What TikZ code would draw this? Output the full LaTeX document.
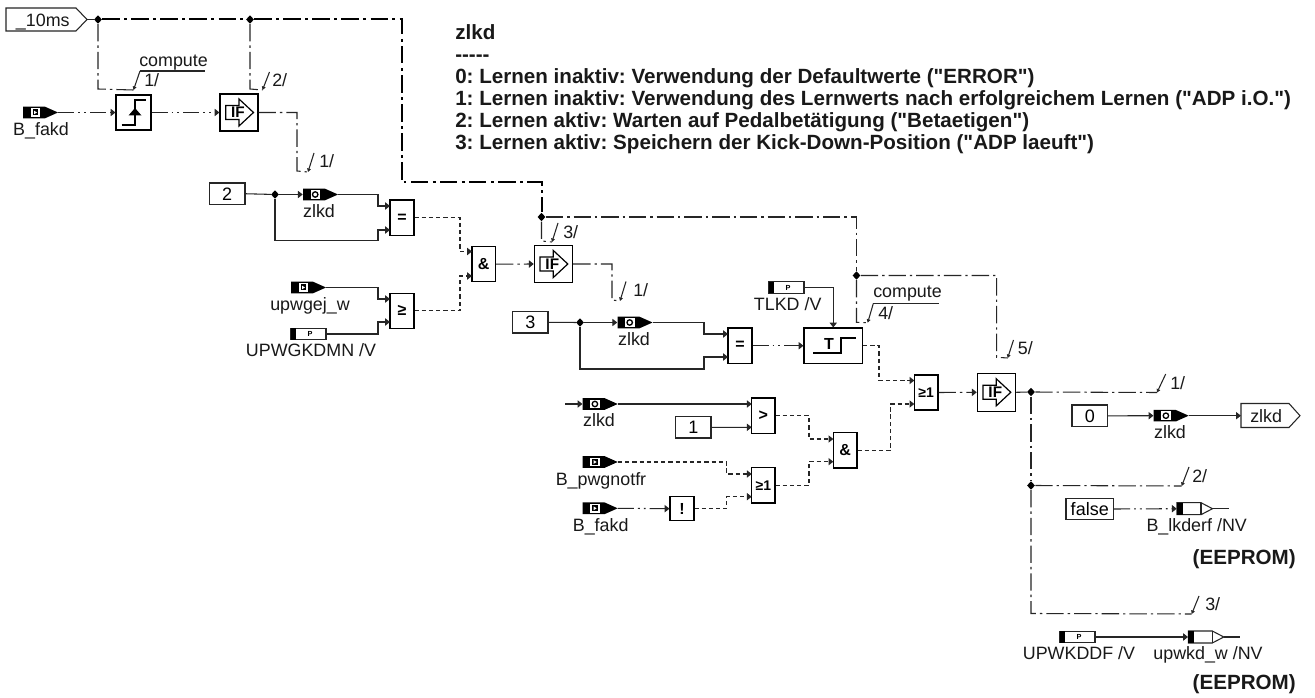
\documentclass[tikz,border=0pt]{standalone}
\usepackage{fontspec}
\setmainfont[Ligatures=TeXOff]{Liberation Sans}
\usetikzlibrary{arrows.meta,shapes.geometric}
\tikzset{
  x=0.75pt,y=-0.75pt,
  wire/.style={line width=0.8pt,draw=black!85},
  tip/.style={-{Triangle[length=3.6pt,width=5.4pt]}},
  sol/.style={wire},
  evt/.style={wire,dash pattern=on 13pt off 3pt on 1.8pt off 3pt},
  evtb/.style={wire,draw=black,line width=1.5pt,dash pattern=on 13pt off 3.4pt on 2pt off 3.4pt},
  bol/.style={wire,dash pattern=on 3.2pt off 2.2pt},
  ddot/.style={wire,dash pattern=on 12pt off 3pt on 1.4pt off 3pt on 1.4pt off 3pt},
  blockst/.style={draw=black,line width=0.8pt,fill=white,inner sep=0pt,font=\fontsize{12pt}{12pt}\selectfont\bfseries},
  valst/.style={draw=black!85,line width=0.8pt,fill=white,inner sep=0pt,font=\fontsize{13.5pt}{14pt}\selectfont},
  jct/.style={diamond,fill=black,inner sep=0pt,minimum width=6pt,minimum height=6.5pt},
  lbl/.style={inner sep=0pt,font=\fontsize{13.4pt}{14pt}\selectfont,text=black!90},
  hdr/.style={inner sep=0pt,font=\fontsize{15.45pt}{16pt}\selectfont\bfseries\frenchspacing,text=black!90},
  ghost/.style={inner sep=0pt,minimum size=0pt},
}
\newcommand\blk[6]{\node[blockst,minimum width={(#4-#2)*0.75pt},minimum height={(#5-#3)*0.75pt}] (#1) at ({(#2+#4)/2},{(#3+#5)/2}) {#6};}
\newcommand\val[6]{\node[valst,minimum width={(#4-#2)*0.75pt},minimum height={(#5-#3)*0.75pt}] (#1) at ({(#2+#4)/2},{(#3+#5)/2}) {#6};}
\newcommand\lab[5]{\node[lbl,anchor=#4] (#1) at (#2,#3) {#5};}
% input variable, square icon
\newcommand\invshape[2]{%
  \fill[black] (#1,#2-5.8)--(#1+22,#2-5.8)--(#1+35,#2)--(#1+22,#2+5.8)--(#1,#2+5.8)--cycle;
  \fill[white] (#1+7.5,#2-4.4) rectangle (#1+17,#2+4.4);}
\newcommand\inq[3]{\invshape{#2}{#3}
  \fill[black] (#2+9.5,#3-3) rectangle (#2+15,#3+3);
  \fill[white] (#2+11,#3-1.8)--(#2+14,#3)--(#2+11,#3+1.8)--cycle;
  \node[ghost,minimum width=26.25pt,minimum height=8.7pt] (#1) at (#2+17.5,#3) {};}
\newcommand\inc[3]{\invshape{#2}{#3}
  \draw[black,line width=1pt] (#2+12.2,#3) circle[radius=2.7];
  \node[ghost,minimum width=26.25pt,minimum height=8.7pt] (#1) at (#2+17.5,#3) {};}
% parameter box
\newcommand\prm[3]{\node[draw=black!85,line width=0.8pt,fill=white,inner sep=0pt,minimum width=26.25pt,minimum height=8.7pt] (#1) at (#2+17.5,#3) {};
  \fill[black] (#2,#3-5.8) rectangle (#2+5,#3+5.8);
  \node[inner sep=0pt,font=\fontsize{5.5pt}{6pt}\selectfont\bfseries] at (#2+19,#3) {P};}
% output variable
\newcommand\outv[3]{\node[ghost,minimum width=26.25pt,minimum height=8.7pt] (#1) at (#2+17.5,#3) {};
  \draw[black!85,line width=0.8pt,fill=white] (#2,#3-6)--(#2+24,#3-6)--(#2+35.5,#3)--(#2+24,#3+6)--(#2,#3+6)--cycle;
  \fill[black] (#2,#3-6) rectangle (#2+6,#3+6);
  \draw[black!85,line width=0.8pt] (#2+24,#3-6)--(#2+24,#3+6);
  \draw[wire] (#2+35.5,#3)--(#2+52,#3);}
% IF block
\newcommand\ifb[5]{\blk{#1}{#2}{#3}{#4}{#5}{}
  \draw[black,line width=0.9pt,fill=white] (#2+5.7,{(#3+#5)/2-7})--(#2+19,{(#3+#5)/2-7})--(#2+19,{(#3+#5)/2-13.5})--(#2+33.5,{(#3+#5)/2})--(#2+19,{(#3+#5)/2+13.5})--(#2+19,{(#3+#5)/2+7})--(#2+5.7,{(#3+#5)/2+7})--cycle;
  \node[inner sep=0pt,font=\fontsize{11.5pt}{12pt}\selectfont\bfseries] at (#2+18,{(#3+#5)/2}) {IF};}
% tick with arrow: name-end point, top point
\newcommand\tick[5]{\coordinate (#1) at (#2,#3);
  \draw[wire,-{Triangle[length=2.6pt,width=2.8pt]}] (#4,#5)--(#1);}
\begin{document}
\begin{tikzpicture}
\useasboundingbox (0,0) rectangle (1315,698);
\fill[white] (0,0) rectangle (1315,698);

% header text
\node[hdr,anchor=base west] (h0) at (455,40) {zlkd};
\node[hdr,anchor=base west] (h1) at (455,62) {-----};
\node[hdr,anchor=base west] (h2) at (455,84) {0: Lernen inaktiv: Verwendung der Defaultwerte ("ERROR")};
\node[hdr,anchor=base west] (h3) at (455,106) {1: Lernen inaktiv: Verwendung des Lernwerts nach erfolgreichem Lernen ("ADP i.O.")};
\node[hdr,anchor=base west] (h4) at (455,128) {2: Lernen aktiv: Warten auf Pedalbetätigung ("Betaetigen")};
\node[hdr,anchor=base west] (h5) at (455,150) {3: Lernen aktiv: Speichern der Kick-Down-Position ("ADP laeuft")};
\node[hdr,anchor=base east] (ee1) at (1296,565) {(EEPROM)};
\node[hdr,anchor=base east] (ee2) at (1296,690) {(EEPROM)};

% clock input
\draw[black!85,line width=0.8pt,fill=white] (6,8)--(76,8)--(87,19.5)--(76,31)--(6,31)--cycle;
\node[ghost,minimum width=60.75pt,minimum height=17pt] (clk) at (46.5,19.5) {};
\lab{clkt}{15.7}{26.7}{base west}{\_10ms}

% junctions
\node[jct] (j1) at (98,19.5) {};
\node[jct] (j2) at (250,19.5) {};
\node[jct] (j3) at (541.5,217) {};
\node[jct] (j4) at (856.5,275.5) {};
\node[jct] (j5) at (275,194.5) {};
\node[jct] (j6) at (580,322.5) {};
\node[jct] (j7) at (1031,392) {};
\node[jct] (j8) at (1031,485.5) {};

% blocks
\blk{edge}{116}{95}{151}{130}{}
\draw[black,line width=1.5pt] (121.7,125)--(135,125)--(135,100)--(146,100);
\fill[black] (128.5,115.5)--(141.5,115.5)--(135,108)--cycle;
\ifb{if1}{220}{94}{258}{131}
\ifb{if2}{534.3}{245.3}{572.7}{282.7}
\ifb{if3}{977.3}{373.3}{1015.7}{411.3}
\blk{eq1}{390}{200}{414}{235.7}{=}
\blk{ge1}{390}{293.3}{414}{328.3}{≥}
\blk{and1}{472}{246.7}{495.5}{281.7}{\&}
\blk{eq2}{728}{328}{752}{363.5}{=}
\blk{tim}{804}{328}{862.5}{363.5}{}
\draw[black,line width=1.5pt] (813,353)--(841,353)--(841,338)--(855.7,338);
\node[inner sep=0pt,font=\fontsize{12pt}{12pt}\selectfont\bfseries] (timt) at (829,344) {T};
\blk{gt}{751.7}{398}{775}{433.3}{>}
\blk{or1}{751.7}{467.7}{775}{503}{\fontsize{10.5pt}{11pt}\selectfont ≥1}
\blk{and2}{833.3}{432.7}{857}{468}{\&}
\blk{or2}{914.3}{375}{938}{410}{\fontsize{10.5pt}{11pt}\selectfont ≥1}
\blk{notb}{670}{496.7}{694}{520.7}{!}

% constants
\val{k2}{209.5}{183}{245}{204.5}{2}
\val{k3}{512.7}{311.7}{548}{333}{3}
\val{k1c}{675.7}{416.7}{711}{438}{1}
\val{k0}{1072}{405}{1107.5}{426.7}{0}
\val{kf}{1066}{498.3}{1113.5}{519.7}{false}

% variables
\inq{vb1}{23}{112.5}
\lab{lb1}{41}{136}{base}{B\_fakd}
\inc{vz1}{303}{194.5}
\lab{lz1}{319}{217.7}{base}{zlkd}
\inq{vu}{291}{287.5}
\lab{lu}{310}{310.7}{base}{upwgej\_w}
\prm{pu}{291}{334}
\lab{lpu}{311}{356.7}{base}{UPWGKDMN /V}
\inc{vz2}{617.5}{322.5}
\lab{lz2}{634}{345.7}{base}{zlkd}
\prm{pt}{769}{287.5}
\lab{lpt}{787.7}{311}{base}{TLKD /V}
\inc{vz3}{582.7}{404}
\lab{lz3}{599}{426.7}{base}{zlkd}
\inq{vp}{582.7}{462}
\lab{lp}{601}{486}{base}{B\_pwgnotfr}
\inq{vb2}{582.7}{508.3}
\lab{lb2}{600.7}{531.7}{base}{B\_fakd}
\inc{vz4}{1153.7}{415.7}
\lab{lz4}{1170}{439}{base}{zlkd}
\outv{ob}{1177}{508.7}
\lab{lob}{1196.7}{531.7}{base}{B\_lkderf /NV}
\outv{ou}{1188.3}{637}
\lab{lou}{1208}{659}{base}{upwkd\_w /NV}
\prm{pk}{1060}{637}
\lab{lpk}{1079}{659}{base}{UPWKDDF /V}

% output signal
\draw[black!85,line width=0.8pt,fill=white] (1241,403.5)--(1289,403.5)--(1300,415.7)--(1289,427.5)--(1241,427.5)--cycle;
\node[ghost,minimum width=44pt,minimum height=18pt] (oz) at (1270.5,415.7) {};
\lab{ozt}{1250}{423}{base west}{zlkd}

% control-flow lines
\draw[evt] (clk.east) -- (j1);
\draw[evtb] (j1) -- (j2);
\coordinate (a1) at (402,19.5); \coordinate (a2) at (402,182.5); \coordinate (a3) at (541.5,182.5);
\draw[evtb] (j2) -- (a1) -- (a2) -- (a3) -- (j3);
\coordinate (b1) at (98,89); \tick{t1}{133.5}{90}{140}{71}
\draw[wire] (140,71)--(205,71);
\draw[evt] (j1) -- (b1) -- (t1);
\lab{cm1}{139}{66.7}{base west}{compute}
\lab{n1}{144}{87}{base west}{1/}
\coordinate (b2) at (250,89); \tick{t2}{262.5}{90}{269.5}{72}
\draw[evt] (j2) -- (b2) -- (t2);
\lab{n2}{272}{87}{base west}{2/}
\coordinate (b3) at (297,171); \tick{t3}{308}{172}{314}{153}
\draw[evt] (if1.east) -| (b3) -- (t3);
\lab{n3}{319}{168}{base west}{1/}
\coordinate (b4) at (541.5,241); \tick{t4}{552}{242}{558}{223}
\draw[evt] (j3) -- (b4) -- (t4);
\lab{n4}{563}{238.3}{base west}{3/}
\coordinate (b5) at (612,300); \tick{t5}{620}{301}{626}{281.5}
\draw[evt] (if2.east) -| (b5) -- (t5);
\lab{n5}{633}{296.7}{base west}{1/}
\coordinate (cc1) at (856.5,217);
\draw[evt] (j3) -- (cc1) -- (j4);
\coordinate (cc2) at (856.5,322.3); \tick{t6}{867.7}{322.7}{873.3}{303.5}
\draw[evt] (j4) -- (cc2) -- (t6);
\draw[wire] (873.3,303.5)--(939.3,303.5);
\lab{cm2}{873}{298}{base west}{compute}
\lab{n6}{878}{319.3}{base west}{4/}
\coordinate (d1) at (996.7,275.5); \coordinate (d2) at (996.7,357.3); \tick{t7}{1007.7}{358}{1013.5}{340}
\draw[evt] (j4) -- (d1) -- (d2) -- (t7);
\lab{n7}{1017.7}{354.3}{base west}{5/}
\tick{t8}{1157}{392.5}{1165.7}{374}
\draw[evt] (j7) -- (t8);
\lab{n8}{1170}{389.3}{base west}{1/}
\tick{t9}{1181.7}{486}{1189}{467}
\draw[evt] (j8) -- (t9);
\lab{n9}{1192}{482.7}{base west}{2/}
\coordinate (e1) at (1031,613.5); \tick{t10}{1191.7}{614}{1199}{596}
\draw[evt] (j7) -- (j8);
\draw[evt] (j8) -- (e1) -- (t10);
\lab{n10}{1205}{610.7}{base west}{3/}

% data lines, edge + IF
\draw[ddot,tip] (vb1.east) -- (edge.west);
\draw[ddot,tip] (edge.east) -- (if1.west);
\draw[sol] (if3.east) -- (j7);

% first compare
\draw[sol] (k2.east) -- (j5);
\draw[sol,tip] (j5) -- (vz1.west);
\coordinate (f1) at (378,206); \coordinate (f1i) at (390,206);
\draw[sol,tip] (vz1.east) -| (f1) -- (f1i);
\coordinate (f2) at (275,240.5); \coordinate (f3) at (378,240.5); \coordinate (f4) at (378,230); \coordinate (f4i) at (390,230);
\draw[sol,tip] (j5) -- (f2) -- (f3) -- (f4) -- (f4i);
\coordinate (f5) at (378,299); \coordinate (f5i) at (390,299);
\draw[sol,tip] (vu.east) -| (f5) -- (f5i);
\coordinate (f6) at (378,322); \coordinate (f6i) at (390,322);
\draw[sol,tip] (pu.east) -| (f6) -- (f6i);
\coordinate (g1) at (460,251.5); \coordinate (g1i) at (472,251.5);
\draw[bol,tip] (eq1.east) -| (g1) -- (g1i);
\coordinate (g2) at (460,276); \coordinate (g2i) at (472,276);
\draw[bol,tip] (ge1.east) -| (g2) -- (g2i);
\draw[evt,tip] (and1.east) -- (if2.west);

% second compare
\draw[sol] (k3.east) -- (j6);
\draw[sol,tip] (j6) -- (vz2.west);
\coordinate (r1) at (704,334); \coordinate (r1i) at (728,334);
\draw[sol,tip] (vz2.east) -| (r1) -- (r1i);
\coordinate (r2) at (580,369); \coordinate (r3) at (704,369); \coordinate (r4) at (704,357); \coordinate (r4i) at (728,357);
\draw[sol,tip] (j6) -- (r2) -- (r3) -- (r4) -- (r4i);
\draw[ddot,tip] (eq2.east) -- (tim.west);
\draw[sol,tip] (pt.east) -| (tim.north);
\coordinate (m1) at (879,380.5); \coordinate (m1i) at (914.3,380.5);
\draw[bol,tip] (tim.east) -| (m1) -- (m1i);
\coordinate (m2) at (890.7,404); \coordinate (m2i) at (914.3,404);
\draw[bol,tip] (and2.east) -| (m2) -- (m2i);
\draw[evt,tip] (or2.east) -- (if3.west);

% third compare
\coordinate (q0) at (565,404);
\draw[sol,tip] (q0) -- (vz3.west);
\coordinate (q1) at (751.7,404);
\draw[sol,tip] (vz3.east) -- (q1);
\coordinate (q2) at (751.7,427.3);
\draw[sol,tip] (k1c.east) -- (q2);
\coordinate (q3) at (809,439); \coordinate (q3i) at (833.3,439);
\draw[bol,tip] (gt.east) -| (q3) -- (q3i);
\coordinate (q4) at (809,461.7); \coordinate (q4i) at (833.3,461.7);
\draw[bol,tip] (or1.east) -| (q4) -- (q4i);
\coordinate (q5) at (726.7,474); \coordinate (q5i) at (751.7,474);
\draw[bol,tip] (vp.east) -| (q5) -- (q5i);
\draw[ddot,tip] (vb2.east) -- (notb.west);
\coordinate (q6) at (726.7,496.7); \coordinate (q6i) at (751.7,496.7);
\draw[bol,tip] (notb.east) -| (q6) -- (q6i);

% outputs
\draw[sol,tip] (k0.east) -- (vz4.west);
\draw[sol,tip] (vz4.east) -- (oz.west);
\draw[ddot,tip] (kf.east) -- (ob.west);
\draw[sol,tip] (pk.east) -- (ou.west);
\end{tikzpicture}
\end{document}
